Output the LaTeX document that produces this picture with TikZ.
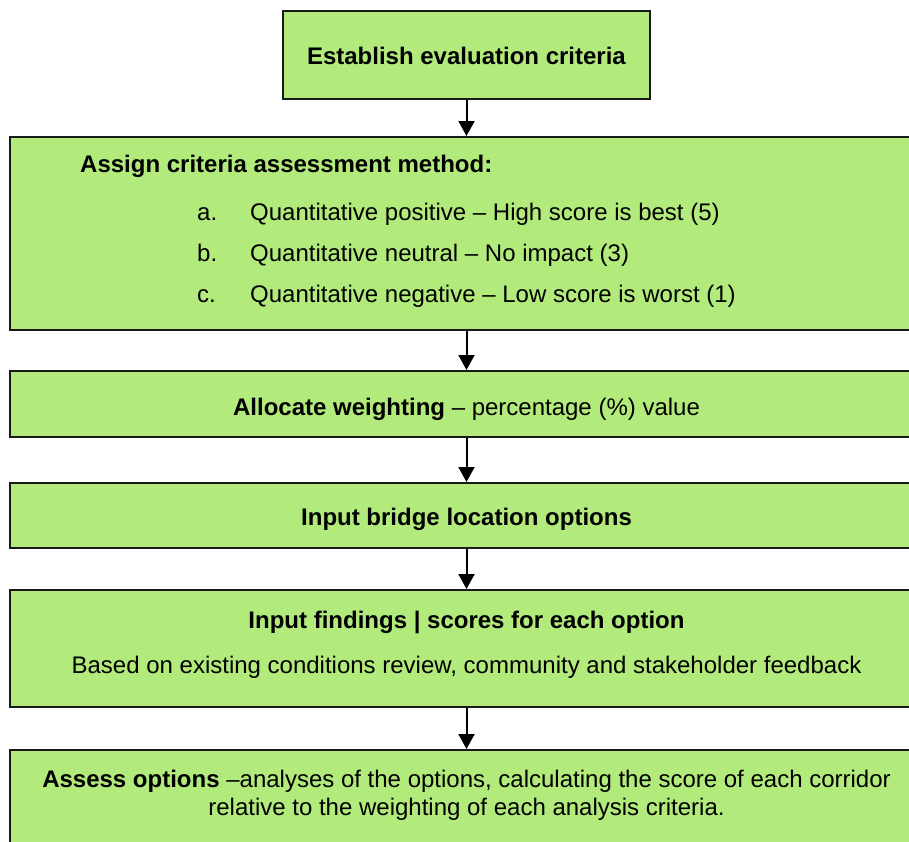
\documentclass[tikz,border=0pt]{standalone}
\usepackage{fontspec}
\setmainfont{Liberation Sans}
\usetikzlibrary{arrows.meta}
\definecolor{boxgreen}{RGB}{178,235,123}
\definecolor{boxline}{RGB}{25,25,25}
\begin{document}
\begin{tikzpicture}[x=1pt,y=-1pt,
  flowbox/.style={draw=boxline, line width=2pt, fill=boxgreen, rectangle, inner sep=0pt},
  txt/.style={anchor=base, inner sep=0pt, font=\fontsize{24}{28}\selectfont},
  flowarrow/.style={line width=2pt, -{Triangle[length=15pt,width=16pt]}}]
\useasboundingbox (0,0) rectangle (909,841);
\clip (0,0) rectangle (909,841);

% boxes
\node[flowbox, minimum width=367pt, minimum height=88pt] (b1) at (466.5,55) {};
\node[flowbox, minimum width=913pt, minimum height=193pt] (b2) at (466.5,233.5) {};
\node[flowbox, minimum width=913pt, minimum height=66pt] (b3) at (466.5,404) {};
\node[flowbox, minimum width=913pt, minimum height=65pt] (b4) at (466.5,515.5) {};
\node[flowbox, minimum width=913pt, minimum height=117pt] (b5) at (466.5,648.5) {};
\node[flowbox, minimum width=913pt, minimum height=117pt] (b6) at (466.5,808.5) {};

% connectors
\draw[flowarrow] (b1.south) -- (b2.north);
\draw[flowarrow] (b2.south) -- (b3.north);
\draw[flowarrow] (b3.south) -- (b4.north);
\draw[flowarrow] (b4.south) -- (b5.north);
\draw[flowarrow] (b5.south) -- (b6.north);

% texts
\node[txt] (t1) at (466.5,64) {\textbf{Establish evaluation criteria}};

\node[txt, anchor=base west] (t2) at (80,172) {\textbf{Assign criteria assessment method:}};
\node[txt, anchor=base west] (la) at (197,220) {a.};
\node[txt, anchor=base west] (ia) at (250,220) {Quantitative positive – High score is best (5)};
\node[txt, anchor=base west] (lb) at (197,261) {b.};
\node[txt, anchor=base west] (ib) at (250,261) {Quantitative neutral – No impact (3)};
\node[txt, anchor=base west] (lc) at (197,302) {c.};
\node[txt, anchor=base west] (ic) at (250,302) {Quantitative negative – Low score is worst (1)};

\node[txt] (t3) at (466.5,415) {\textbf{Allocate weighting} – percentage (\%) value};
\node[txt] (t4) at (466.5,525) {\textbf{Input bridge location options}};
\node[txt] (t5a) at (466.5,628) {\textbf{Input findings | scores for each option}};
\node[txt] (t5b) at (466.5,673) {Based on existing conditions review, community and stakeholder feedback};
\node[txt] (t6a) at (466.5,787) {\textbf{Assess options} –analyses of the options, calculating the score of each corridor};
\node[txt] (t6b) at (466.5,815) {relative to the weighting of each analysis criteria.};
\end{tikzpicture}
\end{document}
